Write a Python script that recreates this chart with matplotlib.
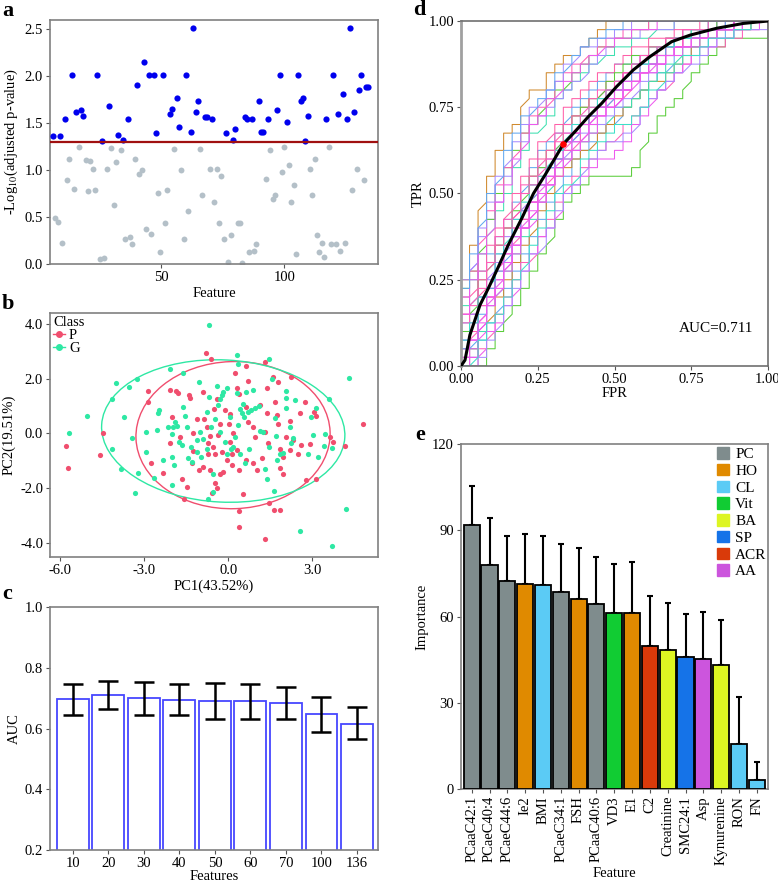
import numpy as np
import matplotlib
matplotlib.use("Agg")
import matplotlib.pyplot as plt
from matplotlib.patches import Ellipse, Patch
from matplotlib.lines import Line2D

plt.rcParams['font.family'] = ['Liberation Serif', 'DejaVu Serif']
plt.rcParams['font.size'] = 10
plt.rcParams['mathtext.fontset'] = 'stix'

# ---------------- panel a: -log10 adjusted p per feature ----------------
sig_feat = [6.1, 9, 11, 13.8, 15.7, 17.6, 18.5, 24.2, 26.2, 29, 32.7, 34.7, 36.5, 40.4, 43.1,
            45.1, 47, 47.8, 50.8, 53.6, 54.6, 56.5, 57.4, 60.3, 62.2, 63.1, 64.1, 65, 67.8, 68.8,
            70.7, 76.4, 79.2, 80.1, 83.9, 84.9, 86.8, 89.6, 90.5, 91.5, 93.4, 97.2, 98.1, 101,
            105.7, 106.6, 107.6, 108.5, 109.5, 117, 119.9, 121.8, 123.7, 125.5, 126.5, 128.4,
            130.3, 131.2, 133.1, 134.1]
sig_val = [1.36, 1.36, 1.54, 2.01, 1.62, 1.64, 1.58, 2.01, 1.31, 1.68, 1.37, 1.32, 1.54, 1.91, 2.15,
           2.01, 2.01, 1.40, 2.01, 1.60, 1.65, 1.77, 1.46, 2.01, 1.41, 2.52, 1.62, 1.74, 1.57, 1.57,
           1.54, 1.40, 1.32, 1.44, 1.57, 1.54, 1.54, 1.74, 1.41, 1.41, 1.54, 1.64, 2.01, 1.51,
           2.01, 1.74, 1.77, 1.31, 1.58, 1.54, 2.01, 1.60, 1.81, 1.54, 2.52, 1.62,
           1.85, 2.01, 1.89, 1.89]
ns_feat = [7, 8.1, 10, 11.9, 12.8, 14.7, 16.6, 19.5, 20.4, 21.4, 22.3, 23.2, 25.1, 27, 28, 29.9,
           30.8, 31.8, 33.6, 35.5, 37.4, 38.4, 39.3, 41.2, 42.2, 44.1, 46, 48.8, 49.7, 51.6, 52.6,
           55.4, 58.2, 59.2, 61.1, 65.8, 66.8, 69.7, 71.6, 72.6, 73.5, 74.5, 75.4, 77.3, 78.2,
           81.1, 82, 83, 85.8, 87.7, 88.6, 92.4, 94.3, 95.3, 96.2, 99.1, 100, 101.9, 102.8, 103.8,
           104.7, 110.4, 111.4, 112.3, 113.2, 114.2, 115.1, 116.1, 118, 118.9, 120.8, 122.6,
           124.6, 127.4, 129.3, 132.2]
ns_val = [0.49, 0.45, 0.22, 0.89, 1.12, 0.80, 1.25, 1.11, 0.78, 1.10, 1.01, 0.79, 0.05, 0.06, 1.01, 1.24,
          0.63, 1.09, 1.21, 0.27, 0.29, 0.21, 1.12, 0.96, 1.00, 0.37, 0.32, 0.76, 0.13, 0.44, 0.79,
          1.23, 1.00, 0.27, 0.56, 1.23, 0.73, 1.01, 0.66, 1.01, 0.44, 0.94, 0.27, 0.02, 0.31,
          0.44, 0.44, 0.01, 0.13, 0.14, 0.21, 0.91, 1.21, 0.69, 0.73, 0.98, 1.25, 1.05, 0.66, 0.84,
          0.11, 1.01, 0.73, 1.12, 0.31, 0.13, 0.22, 0.07, 1.25, 0.21, 0.21, 0.14,
          0.22, 0.79, 1.01, 0.89]
p_cut = 1.3

# ---------------- panel b: PCA scores ----------------
p_pc1 = [-5.81, -5.71, -4.58, -4.46, -2.86, -2.87, -2.75, -2.33, -2.08, -2.0, -1.85, -1.79, -2.08,
         -1.67, -1.57, -1.40, -1.35, -1.49, -1.27, -1.10, -1.25, -0.92, -0.81, -0.63, -0.87, -0.77,
         -0.71, -0.65, -0.46, -0.42, -0.58, -0.30, -0.20, -0.5, -0.36, -0.24, -0.11, 0.01, 0.06,
         0.24, 0.32, 0.38, 0.63, 0.71, 0.62, 0.06, 0.12, 0.39, 0.40, 0.38, 0.52, 1.01, 1.13, 1.37,
         1.33, 1.37, 1.31, 1.43, 1.21, 1.44, 1.33, 1.64, 1.85, 1.61, 1.77, 1.67, 1.73, 1.79, 1.85,
         1.85, 1.95, 2.06, 2.20, 2.24, 2.56, 2.6, 2.48, 2.74, 2.92, 2.77, 3.06, 3.15, 3.12, 3.63,
         3.73, 4.17, 4.82, -1.04, -0.89, -0.73, -0.54, -1.31, -1.73, -0.42, -0.30, 0.18, 0.30,
         0.71, 0.89, 0.95, 0.65, 0.89, 1.96, 2.20, 2.32, 0.12, -0.06, -0.65, -0.48]
p_pc2 = [-0.45, -1.25, -0.80, 0.01, 1.54, 1.15, -1.06, -1.44, 1.60, 0.61, 1.54, 1.49, -0.34,
         -1.67, -2.39, 1.40, 1.30, -1.94, 0.0, 0.51, -0.63, 1.52, 2.92, 2.71, 0.52, 0.24,
         -0.36, -1.33, -1.81, -1.97, -2.18, -1.46, -1.40, 0.89, -0.04, -0.67, 0.85, 0.34, 0.70,
         2.20, 1.66, 1.43, 2.45, 1.91, 0.97, -0.30, -0.73, -1.33, -2.84, -3.41, -2.20, -1.33, 1.02, 1.64,
         2.61, 0.73, 0.06, -0.36, -0.89, -2.55, -3.86, -2.79, -2.77, 2.06, 1.87, 1.15, 0.67, 0.34, -0.58,
         -1.27, -1.48, -0.12, 0.45, 2.04, 0.75, -0.42, -0.76, 1.14, -0.38, -1.70, 0.78, 0.64, -1.67, -0.12,
         -0.30, -0.45, 0.36, -1.34, -1.21, -0.73, -0.49, -1.09, -0.12, 1.27, 0.36, 0.0, -0.61,
         0.42, 0.24, -0.12, -0.97, -1.09, -0.85, -0.61, -0.24, -1.15, -0.97, -0.10, -0.73]
g_pc1 = [-5.68, -5.04, -4.15, -4.15, -4.02, -3.85, -3.73, -3.54, -3.45, -3.33, -3.26, -3.23, -2.95,
         -2.95, -2.65, -2.56, -2.52, -2.46, -2.35, -2.14, -2.07, -2.02, -2.01, -1.93, -1.90, -1.82,
         -1.76, -1.67, -1.63, -1.60, -1.55, -1.49, -1.45, -1.31, -1.33, -1.13, -1.11, -1.04, -0.99,
         -0.89, -0.77, -0.73, -0.68, -0.68, -0.60, -0.54, -0.54, -0.48, -0.42, -0.36, -0.30, -0.24,
         -0.18, -0.06, -0.12, 0.06, 0.10, 0.18, 0.32, 0.36, 0.30, 0.36, 0.42, 0.54, 0.48, 0.56, 0.65,
         0.71, 0.60, 0.74, 0.81, 0.94, 1.11, 1.13, 1.25, 1.31, 1.37, 1.46, 1.46, 1.58, 1.63, 1.67,
         1.70, 1.85, 1.94, 2.06, 2.08, 2.08, 2.20, 2.30, 2.24, 2.56, 2.86, 2.94, 3.01, 3.15, 3.21,
         3.42, 3.46, 3.60, 3.69, 3.71, 4.20, 4.32, -1.96, -2.02, -1.01, -0.77, -0.30, 0.24, 0.42,
         -0.06, 0.89, 1.73, 2.38]
g_pc2 = [0.0, 0.63, -0.58, 1.27, 1.84, -1.29, 0.59, 1.70, -0.18, -2.18, 1.98, -1.43, 0.04,
         -0.69, -1.61, 0.13, 0.74, 0.85, -0.95, 0.24, 2.35, -1.88, -0.02, -1.15, 0.42, 0.28,
         -0.30, -0.42, 0.97, 2.21, 0.63, 0.24, -0.91, -1.03, -0.49, -0.24, -0.67, 1.86, -0.85,
         -0.19, -0.55, -2.37, 3.94, 1.33, 0.24, -1.46, -2.12, 0.51, 1.72, 1.03, 1.27, 1.40,
         1.52, 1.64, -0.30, 0.61, -0.55, -0.49, 2.85, 2.55, 1.46, 0.30, 0.91, 1.07, 0.73, 0.61, 1.52,
         0.79, -1.09, -0.55, 0.85, 0.93, 0.99, 0.10, 0.06, -1.30, -1.64, 2.71, -0.49, 1.98, -2.10, 0.57,
         -0.08, -0.73, -0.70, 1.55, 1.30, 0.93, 0.24, -0.17, -0.36, -3.54, -0.73, 0.61, -0.06, 0.92, -0.85,
         -0.46, -0.02, 1.25, -4.09, -0.52, -2.75, 2.03, 0.24, -0.85, 0.06, 0.79, 0.06, -0.12, -0.73,
         -0.73, 1.58, -0.97, 1.21]

# ---------------- panel c: AUC by number of features ----------------
n_features = ['10', '20', '30', '40', '50', '60', '70', '100', '136']
auc_mean = [0.697, 0.710, 0.700, 0.693, 0.690, 0.689, 0.684, 0.647, 0.616]
auc_hi = [0.747, 0.758, 0.752, 0.746, 0.750, 0.745, 0.735, 0.705, 0.670]
auc_lo = [0.645, 0.664, 0.645, 0.643, 0.630, 0.632, 0.632, 0.590, 0.564]

# ---------------- panel d: ROC curves (tp count out of 40 at each fp step of 36) ----------------
roc_tp = [
    [10, 14, 19, 22, 25, 27, 28, 31, 32, 32, 34, 35, 36, 36, 37, 38, 39, 40, 40, 40, 40, 40, 40, 40, 40, 40, 40, 40, 40, 40, 40, 40, 40, 40, 40, 40, 40],
    [0, 0, 0, 2, 4, 6, 7, 9, 11, 13, 15, 17, 19, 20, 21, 22, 22, 22, 22, 22, 23, 26, 27, 29, 30, 31, 33, 34, 35, 36, 37, 38, 38, 38, 38, 38, 40],
    [7, 10, 13, 16, 18, 20, 23, 25, 27, 28, 29, 31, 32, 33, 34, 35, 36, 36, 37, 37, 38, 38, 39, 39, 39, 40, 40, 40, 40, 40, 40, 40, 40, 40, 40, 40, 40],
    [0, 1, 3, 5, 7, 9, 11, 13, 15, 17, 19, 21, 22, 24, 25, 26, 27, 28, 29, 30, 31, 32, 33, 34, 35, 36, 36, 37, 37, 38, 38, 39, 39, 39, 40, 40, 40],
    [8, 12, 15, 17, 19, 22, 24, 26, 28, 29, 30, 31, 32, 33, 34, 35, 36, 37, 38, 38, 38, 39, 39, 39, 39, 40, 40, 40, 40, 40, 40, 40, 40, 40, 40, 40, 40],
    [0, 2, 4, 6, 8, 10, 12, 14, 16, 18, 20, 22, 23, 24, 25, 26, 27, 28, 29, 30, 31, 32, 33, 33, 34, 35, 36, 37, 38, 38, 39, 39, 39, 39, 40, 40, 40],
    [9, 11, 14, 17, 20, 23, 25, 27, 28, 30, 31, 32, 33, 34, 35, 36, 37, 37, 38, 38, 39, 39, 40, 40, 40, 40, 40, 40, 40, 40, 40, 40, 40, 40, 40, 40, 40],
    [1, 2, 4, 7, 9, 11, 13, 15, 17, 19, 21, 23, 24, 25, 26, 27, 28, 29, 30, 30, 31, 32, 33, 34, 35, 36, 37, 37, 38, 38, 39, 39, 39, 40, 40, 40, 40],
    [5, 8, 11, 13, 15, 17, 19, 21, 23, 25, 26, 27, 29, 30, 31, 32, 33, 34, 35, 35, 36, 36, 37, 37, 38, 38, 39, 39, 39, 40, 40, 40, 40, 40, 40, 40, 40],
    [3, 6, 8, 10, 12, 14, 15, 17, 19, 21, 23, 24, 25, 26, 27, 28, 28, 29, 30, 31, 32, 33, 34, 35, 36, 37, 38, 38, 38, 39, 39, 40, 40, 40, 40, 40, 40],
    [1, 3, 5, 8, 10, 12, 13, 16, 18, 20, 22, 24, 26, 27, 28, 29, 30, 30, 31, 32, 34, 34, 35, 36, 37, 37, 38, 38, 39, 39, 39, 39, 40, 40, 40, 40, 40],
    [4, 6, 9, 12, 14, 16, 18, 20, 22, 24, 25, 27, 28, 29, 30, 31, 32, 33, 33, 34, 35, 36, 36, 37, 37, 38, 38, 38, 39, 39, 39, 39, 40, 40, 40, 40, 40],
    [2, 5, 7, 9, 12, 14, 16, 17, 19, 21, 23, 25, 26, 27, 28, 29, 30, 31, 32, 33, 33, 34, 35, 35, 36, 37, 37, 38, 38, 38, 39, 39, 39, 40, 40, 40, 40],
    [6, 9, 11, 14, 16, 18, 20, 22, 24, 26, 27, 28, 30, 31, 32, 33, 34, 34, 35, 36, 37, 37, 38, 38, 38, 39, 39, 39, 40, 40, 40, 40, 40, 40, 40, 40, 40],
    [2, 4, 7, 9, 12, 14, 16, 18, 20, 22, 23, 25, 26, 27, 28, 29, 30, 31, 32, 33, 34, 35, 36, 36, 37, 37, 38, 38, 39, 39, 39, 39, 40, 40, 40, 40, 40],
    [0, 2, 5, 8, 10, 12, 14, 16, 18, 20, 21, 23, 25, 26, 27, 28, 29, 30, 31, 32, 33, 34, 35, 36, 36, 37, 38, 38, 38, 39, 39, 39, 40, 40, 40, 40, 40],
    [3, 6, 8, 11, 13, 15, 17, 19, 21, 23, 24, 26, 27, 28, 29, 30, 31, 32, 33, 34, 35, 36, 36, 37, 37, 38, 38, 39, 39, 39, 40, 40, 40, 40, 40, 40, 40],
    [1, 4, 6, 8, 11, 13, 15, 17, 19, 21, 22, 24, 25, 26, 28, 29, 30, 31, 31, 32, 33, 34, 35, 36, 37, 37, 38, 38, 38, 39, 39, 40, 40, 40, 40, 40, 40],
    [4, 7, 10, 12, 14, 16, 18, 20, 22, 23, 25, 26, 28, 29, 30, 31, 32, 33, 34, 35, 36, 36, 37, 37, 38, 38, 38, 39, 39, 39, 40, 40, 40, 40, 40, 40, 40],
    [0, 3, 5, 7, 9, 11, 14, 16, 18, 19, 21, 22, 24, 25, 26, 27, 29, 30, 31, 32, 33, 34, 35, 35, 36, 37, 37, 38, 38, 39, 39, 39, 40, 40, 40, 40, 40],
    [5, 7, 9, 12, 15, 17, 19, 21, 22, 24, 25, 27, 28, 29, 30, 31, 32, 32, 33, 34, 35, 36, 37, 37, 38, 38, 39, 39, 39, 40, 40, 40, 40, 40, 40, 40, 40],
    [2, 3, 6, 9, 11, 13, 15, 18, 20, 21, 23, 24, 26, 27, 28, 29, 30, 31, 32, 33, 34, 35, 35, 36, 37, 38, 38, 38, 39, 39, 39, 40, 40, 40, 40, 40, 40],
    [1, 3, 6, 8, 10, 13, 15, 17, 19, 21, 22, 24, 26, 27, 28, 29, 30, 31, 32, 33, 33, 34, 35, 36, 36, 37, 37, 38, 38, 38, 39, 39, 39, 40, 40, 40, 40],
    [3, 5, 8, 10, 13, 15, 17, 19, 21, 22, 24, 25, 27, 28, 29, 30, 31, 32, 33, 34, 35, 35, 36, 37, 37, 38, 38, 39, 39, 40, 40, 40, 40, 40, 40, 40, 40],
    [6, 8, 10, 12, 14, 16, 18, 20, 21, 23, 24, 26, 27, 28, 29, 30, 31, 32, 33, 34, 35, 36, 36, 37, 38, 38, 39, 39, 39, 40, 40, 40, 40, 40, 40, 40, 40],
    [0, 1, 4, 7, 9, 12, 14, 16, 17, 19, 21, 23, 24, 25, 27, 28, 29, 30, 31, 32, 33, 34, 34, 35, 36, 36, 37, 37, 38, 38, 39, 39, 39, 40, 40, 40, 40],
    [8, 11, 15, 18, 21, 23, 25, 27, 29, 30, 31, 33, 34, 35, 36, 36, 37, 38, 38, 39, 39, 39, 40, 40, 40, 40, 40, 40, 40, 40, 40, 40, 40, 40, 40, 40, 40],
    [10, 12, 16, 19, 22, 24, 26, 28, 30, 31, 32, 33, 35, 36, 37, 37, 38, 38, 39, 39, 40, 40, 40, 40, 40, 40, 40, 40, 40, 40, 40, 40, 40, 40, 40, 40, 40],
    [6, 10, 13, 16, 19, 21, 24, 26, 28, 29, 31, 32, 33, 34, 35, 36, 37, 37, 38, 38, 39, 39, 39, 40, 40, 40, 40, 40, 40, 40, 40, 40, 40, 40, 40, 40, 40],
    [9, 13, 17, 20, 22, 25, 27, 29, 30, 31, 32, 34, 35, 36, 37, 38, 38, 39, 39, 40, 40, 40, 40, 40, 40, 40, 40, 40, 40, 40, 40, 40, 40, 40, 40, 40, 40],
    [0, 0, 2, 4, 6, 8, 10, 12, 13, 15, 17, 19, 21, 22, 23, 24, 25, 26, 27, 28, 29, 30, 31, 32, 33, 34, 35, 36, 36, 37, 37, 38, 38, 39, 39, 40, 40],
    [0, 1, 2, 4, 5, 7, 9, 11, 13, 15, 16, 18, 20, 21, 22, 23, 24, 24, 25, 26, 28, 29, 31, 32, 33, 34, 35, 36, 37, 37, 38, 38, 39, 39, 39, 40, 40],
    [0, 0, 1, 3, 5, 7, 9, 11, 13, 14, 16, 18, 20, 21, 23, 24, 25, 26, 26, 27, 28, 30, 31, 32, 33, 34, 35, 35, 36, 37, 38, 38, 39, 39, 39, 39, 40],
    [0, 1, 3, 5, 6, 8, 10, 12, 14, 16, 18, 20, 21, 22, 24, 25, 26, 27, 28, 28, 29, 30, 32, 33, 34, 35, 36, 36, 37, 38, 38, 38, 39, 39, 40, 40, 40],
]
roc_diag = [[2, 7, 13, 20], [5, 10, 21, 26], [3, 9, 16, 22], [4, 11, 18, 24], [1, 6, 14, 19],
            [3, 8, 15, 23], [2, 9, 19, 12], [4, 10, 17, 25], [1, 7, 12, 21], [5, 12, 20, 27],
            [3, 8, 13, 18], [2, 6, 11, 16], [4, 9, 15, 22], [1, 5, 10, 17],
            [1, 4, 8, 12, 17], [2, 5, 9, 14, 20], [3, 7, 11, 15, 22], [2, 6, 10, 13, 19],
            [1, 3, 7, 11, 16], [2, 4, 8, 12, 18], [3, 6, 9, 14, 21], [1, 5, 8, 13, 17],
            [2, 4, 7, 11, 15], [3, 5, 10, 12, 19], [1, 6, 9, 13, 16], [2, 5, 8, 14, 18],
            [2, 6, 10, 14], [1, 5, 9, 13], [3, 7, 11, 16], [2, 4, 8, 12],
            [3, 8, 12, 18, 24], [2, 6, 11, 17, 22], [4, 9, 14, 20, 26], [1, 7, 13, 19, 23]]
roc_colors = ['#D08A2E', '#5ACD3A', '#3EE0B0', '#62A8F0', '#A88CFF', '#D08A2E', '#5ACD3A',
              '#3EE0B0', '#62A8F0', '#A88CFF', '#EE5AEE', '#FF5FA8', '#EE5AEE', '#FF5FA8',
              '#FF5FB8', '#EE5AEE', '#B07CFF', '#FF5FB8', '#5ACD3A', '#EE5AEE', '#FF5FB8',
              '#62A8F0', '#EE5AEE', '#3EE0C8', '#FF5FB8', '#EE5AEE',
              '#FF5FB8', '#A88CFF', '#EE5AEE', '#62A8F0', '#FF5FB8', '#EE5AEE', '#A88CFF', '#3EE0C8']
mean_fpr = [0.0, 0.013, 0.029, 0.062, 0.089, 0.122, 0.154, 0.198, 0.236, 0.274, 0.306, 0.333,
            0.371, 0.415, 0.458, 0.507, 0.561, 0.616, 0.686, 0.746, 0.833, 0.92, 1.0]
mean_tpr = [0.0, 0.017, 0.09, 0.177, 0.225, 0.288, 0.351, 0.428, 0.5, 0.554, 0.602, 0.643,
            0.679, 0.723, 0.761, 0.81, 0.858, 0.897, 0.94, 0.959, 0.979, 0.993, 1.0]
best_point = (0.333, 0.643)
auc_text = 'AUC=0.711'

# ---------------- panel e: feature importance ----------------
imp_feat = ['PCaaC42:1', 'PCaeC40:4', 'PCaeC44:6', 'Ie2', 'BMI', 'PCaeC34:1', 'FSH', 'PCaaC40:6',
            'VD3', 'E1', 'C2', 'Creatinine', 'SMC24:1', 'Asp', 'Kynurenine', 'RON', 'FN']
imp_val = [91.7, 77.8, 72.5, 71.2, 70.8, 68.6, 66.1, 64.3, 61.2, 61.2, 49.7, 48.2, 46.0, 45.3, 43.2, 15.6, 3.1]
imp_hi = [105.5, 94.1, 87.9, 88.7, 87.9, 85.1, 84.0, 80.7, 78.3, 78.9, 67.0, 64.6, 60.8, 61.6, 58.7, 31.9, 9.5]
imp_group = ['PC', 'PC', 'PC', 'HO', 'CL', 'PC', 'HO', 'PC', 'Vit', 'HO', 'ACR', 'BA', 'SP', 'AA', 'BA', 'CL', 'CL']
group_names = ['PC', 'HO', 'CL', 'Vit', 'BA', 'SP', 'ACR', 'AA']
group_colors = ['#7F8C8D', '#E08A00', '#5BCBF5', '#11CC33', '#DDF522', '#1573E8', '#D93A0A', '#CC55DD']

W, H = 778, 881
fig = plt.figure(figsize=(W / 100, H / 100), dpi=100)


def box(l, t, r, b):
    return [l / W, 1 - b / H, (r - l) / W, (b - t) / H]


def style(ax, col='#808080'):
    for s in ax.spines.values():
        s.set_color(col)
        s.set_linewidth(1.2)
    ax.tick_params(direction='out', length=3, width=0.8, color='#555555', labelsize=10.5, pad=2)


# a
ax = fig.add_axes(box(50, 20, 378, 264))
ax.scatter(ns_feat, ns_val, s=18, color='#B4C0C8', lw=0, zorder=2)
ax.scatter(sig_feat, sig_val, s=20, color='#0000EE', lw=0, zorder=3)
ax.axhline(p_cut, color='#A01010', lw=1.6, zorder=4)
ax.set_xlim(5, 138)
ax.set_ylim(0, 2.6)
ax.set_xticks([50, 100])
ax.set_yticks([0, 0.5, 1.0, 1.5, 2.0, 2.5])
ax.set_yticklabels(['0.0', '0.5', '1.0', '1.5', '2.0', '2.5'])
ax.set_xlabel('Feature', fontsize=10.5, labelpad=2)
ax.set_ylabel('-Log$_{10}$(adjusted p-value)', fontsize=10.5, labelpad=3)
style(ax)

# b
ax = fig.add_axes(box(50, 313, 378, 557))
ax.scatter(p_pc1, p_pc2, s=14, color='#F04E6E', lw=0, zorder=3)
ax.scatter(g_pc1, g_pc2, s=14, color='#2EE8A4', lw=0, zorder=3)
ax.add_patch(Ellipse((0.17, -0.06), 6.94, 5.36, angle=2, fill=False, ec='#F04E6E', lw=1))
ax.add_patch(Ellipse((-0.18, 0.09), 8.7, 5.18, angle=-3, fill=False, ec='#2EE8A4', lw=1))
ax.set_xlim(-6.37, 5.35)
ax.set_ylim(-4.5, 4.39)
ax.set_xticks([-6, -3, 0, 3])
ax.set_xticklabels(['-6.0', '-3.0', '0.0', '3.0'])
ax.set_yticks([-4, -2, 0, 2, 4])
ax.set_yticklabels(['-4.0', '-2.0', '0.0', '2.0', '4.0'])
ax.set_xlabel('PC1(43.52%)', fontsize=10.5, labelpad=2)
ax.set_ylabel('PC2(19.51%)', fontsize=10.5, labelpad=3)
handles = [Line2D([], [], color='#F04E6E', marker='o', ms=4, lw=1),
           Line2D([], [], color='#2EE8A4', marker='o', ms=4, lw=1)]
leg = ax.legend(handles, ['P', 'G'], title='Class', loc='upper left', frameon=False,
                fontsize=10.5, title_fontsize=10.5, handlelength=0.8, handletextpad=0.3,
                labelspacing=0.0, borderaxespad=0.1, borderpad=0.1)
leg._legend_box.align = 'left'
style(ax)

# c
ax = fig.add_axes(box(50, 607, 378, 850))
xc = np.arange(len(n_features))
ax.bar(xc, auc_mean, width=0.9, color='white', edgecolor='#4747FF', lw=1.3)
ax.errorbar(xc, auc_mean, yerr=[np.subtract(auc_mean, auc_lo), np.subtract(auc_hi, auc_mean)],
            fmt='none', ecolor='black', elinewidth=1.8, capsize=7, capthick=1.8)
ax.set_xlim(-0.64, 8.59)
ax.set_ylim(0.2, 1.0)
ax.set_xticks(xc)
ax.set_xticklabels(n_features)
ax.set_yticks([0.2, 0.4, 0.6, 0.8, 1.0])
ax.set_yticklabels(['0.2', '0.4', '0.6', '0.8', '1.0'])
ax.set_xlabel('Features', fontsize=10.5, labelpad=-0.3)
ax.set_ylabel('AUC', fontsize=10.5, labelpad=3)
style(ax)

# d
ax = fig.add_axes(box(461, 21, 768, 366))
for tp, dg, col in zip(roc_tp, roc_diag, roc_colors):
    xs, ys = [0], [0]
    prev = 0
    for k, t in enumerate(tp):
        if k in dg and k < 36 and t > prev:
            xs += [k, k + 1]
            ys += [t - 1, t]
        elif k < 36:
            xs += [k, k + 1]
            ys += [t, t]
        else:
            xs += [k]
            ys += [t]
        prev = t
    xs.append(36)
    ys.append(40)
    ax.plot(np.array(xs) / 36, np.array(ys) / 40, color=col, lw=0.75, zorder=2)
ax.plot(mean_fpr, mean_tpr, color='black', lw=2.2, zorder=4)
ax.scatter([best_point[0]], [best_point[1]], s=14, color='red', zorder=5)
ax.text(0.83, 0.11, auc_text, ha='center', va='center', fontsize=11)
ax.set_xlim(0, 1)
ax.set_ylim(0, 1)
ticks = [0, 0.25, 0.5, 0.75, 1.0]
ax.set_xticks(ticks)
ax.set_yticks(ticks)
ax.set_xticklabels(['0.00', '0.25', '0.50', '0.75', '1.00'])
ax.set_yticklabels(['0.00', '0.25', '0.50', '0.75', '1.00'])
ax.set_xlabel('FPR', fontsize=10.5, labelpad=1)
ax.set_ylabel('TPR', fontsize=10.5, labelpad=3)
style(ax, '#707070')
ax.spines['left'].set_color('#A0A0A0')
ax.spines['left'].set_linewidth(2)

# e
ax = fig.add_axes(box(461, 444, 768, 789))
xe = np.arange(len(imp_feat))
cmap = dict(zip(group_names, group_colors))
ax.errorbar(xe, imp_hi, yerr=[np.subtract(imp_hi, imp_val), np.zeros(len(xe))], fmt='none',
            ecolor='black', elinewidth=1.5, capsize=2.5, capthick=1.5, zorder=2)
ax.bar(xe, imp_val, width=0.9, color=[cmap[g] for g in imp_group], edgecolor='black', lw=1.3, zorder=3)
ax.set_xlim(-0.6, 16.63)
ax.set_ylim(0, 120)
ax.set_yticks([0, 30, 60, 90, 120])
ax.set_xticks(xe)
ax.set_xticklabels(imp_feat, rotation=90)
ax.set_xlabel('Feature', fontsize=10.5, labelpad=2)
ax.set_ylabel('Importance', fontsize=10.5, labelpad=3)
ax.legend([Patch(color=c) for c in group_colors], group_names, loc='upper right', frameon=False,
          fontsize=11, handlelength=0.8, handleheight=0.8, handletextpad=0.4,
          labelspacing=0.17, borderaxespad=0.0, borderpad=0.2, bbox_to_anchor=(1.005, 1.0))
style(ax)

for lab, x, y in [('a', 2, 11), ('b', 2, 304), ('c', 2, 594), ('d', 413, 10), ('e', 415, 435)]:
    fig.text(x / W, 1 - y / H, lab, fontsize=16, fontweight='bold', ha='left', va='center')

fig.savefig('out.png', dpi=100)
